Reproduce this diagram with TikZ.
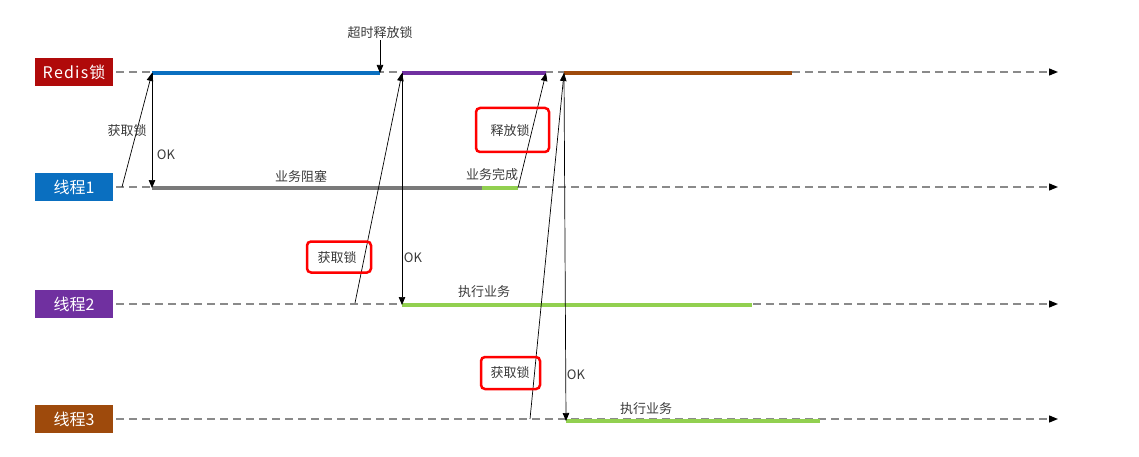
\documentclass[tikz,border=0pt]{standalone}
\usepackage{fontspec}
\setmainfont{Noto Sans CJK SC}
\usetikzlibrary{arrows.meta}
\definecolor{redisc}{HTML}{B00A0A}
\definecolor{t1c}{HTML}{0A6FC0}
\definecolor{t2c}{HTML}{7030A0}
\definecolor{t3c}{HTML}{9E4A0C}
\definecolor{txtc}{HTML}{3A3A3A}
\definecolor{greenc}{HTML}{92D050}
\definecolor{greyc}{HTML}{7A7A7A}
\definecolor{dashc}{HTML}{8A8A8A}
\tikzset{
  lanebox/.style={fill=#1, minimum width=78pt, minimum height=28pt, inner sep=0pt, text=white, font=\fontsize{16}{18}\selectfont},
  laneline/.style={draw=dashc, line width=1.3pt, dash pattern=on 8pt off 5pt, -{Triangle[length=9pt,width=7pt,color=black,fill=black]}},
  bar/.style={line width=4pt, draw=#1},
  msg/.style={draw=black, line width=0.7pt, -{Triangle[length=8pt,width=6.5pt]}},
  lbl/.style={text=txtc, font=\fontsize{13}{15}\selectfont, inner sep=1pt},
  redbox/.style={draw=red, line width=2.5pt, rounded corners=4pt, minimum width=#1, inner sep=0pt}
}
\begin{document}
\begin{tikzpicture}[x=1pt,y=-1pt]
\useasboundingbox (0,0) rectangle (1139,457);
% lane boxes
\node[lanebox=redisc] (redis) at (74,72) {R\kern1.2pt e\kern1.2pt d\kern1.2pt i\kern1.2pt s\kern1pt 锁};
\node[lanebox=t1c] (t1) at (74,187) {线程1};
\node[lanebox=t2c] (t2) at (74,304) {线程2};
\node[lanebox=t3c] (t3) at (74,419) {线程3};
% lane end coordinates
\coordinate (rE) at (1058,72);
\coordinate (aE) at (1058,187);
\coordinate (bE) at (1058,304);
\coordinate (cE) at (1058,419);
\draw[laneline] (redis.east) ++(3,0) -- (rE);
\draw[laneline] (t1.east) ++(3,0) -- (aE);
\draw[laneline] (t2.east) ++(3,0) -- (bE);
\draw[laneline] (t3.east) ++(3,0) -- (cE);
% key points
\coordinate (r1s) at (152,73); \coordinate (r1e) at (380,73);
\coordinate (r2s) at (402,73); \coordinate (r2e) at (546,73);
\coordinate (r3s) at (564,73); \coordinate (r3e) at (792,73);
\coordinate (a0) at (122,187);
\coordinate (a1) at (152,188); \coordinate (a2) at (482,188); \coordinate (a3) at (518,188);
\coordinate (b0) at (355,303);
\coordinate (b1) at (402,305); \coordinate (b2) at (752,305);
\coordinate (c0) at (530,419);
\coordinate (c1) at (566,421); \coordinate (c2) at (820,421);
% bars
\draw[bar=t1c] (r1s) -- (r1e);
\draw[bar=t2c] (r2s) -- (r2e);
\draw[bar=t3c] (r3s) -- (r3e);
\draw[bar=greyc] (a1) -- (a2);
\draw[bar=greenc] (a2) -- (a3);
\draw[bar=greenc] (b1) -- (b2);
\draw[bar=greenc] (c1) -- (c2);
% timeout label
\node[lbl] (timeout) at (380,33) {超时释放锁};
\draw[msg] (timeout.south) -- (r1e);
% thread 1
\draw[msg] (a0) -- (r1s);
\draw[msg] (r1s) -- (a1);
\node[lbl] (get1) at (127,131) {获取锁};
\node[lbl] (ok1) at (166,155) {OK};
\node[lbl] (block) at (301,177) {业务阻塞};
\node[lbl] (done) at (492,175) {业务完成};
\draw[msg] (a3) -- (r2e);
\node[lbl] (rel) at (510,131) {释放锁};
\node[redbox=73pt, minimum height=44pt] (relbox) at (512.5,130) {};
% thread 2
\draw[msg] (b0) -- (r2s);
\draw[msg] (r2s) -- (b1);
\node[lbl] (get2) at (337,258) {获取锁};
\node[redbox=64pt, minimum height=31pt] (get2box) at (339,257) {};
\node[lbl] (ok2) at (413,258) {OK};
\node[lbl] (run2) at (484,292) {执行业务};
% thread 3
\draw[msg] (c0) -- (r3s);
\draw[msg] (r3s) -- (c1);
\node[lbl] (get3) at (510,373) {获取锁};
\node[redbox=59pt, minimum height=32pt] (get3box) at (510.5,373) {};
\node[lbl] (ok3) at (576,375) {OK};
\node[lbl] (run3) at (646,409) {执行业务};
\end{tikzpicture}
\end{document}
